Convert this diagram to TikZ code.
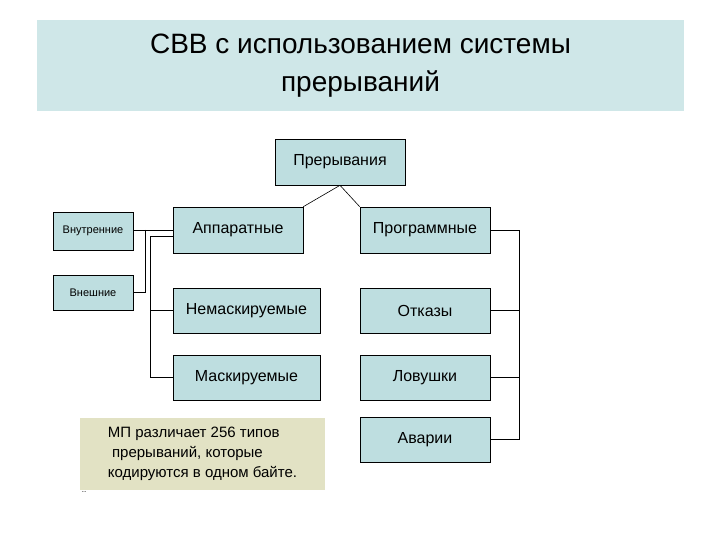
\documentclass[tikz,border=0pt]{standalone}
\usepackage{fontspec}
\setmainfont{Liberation Sans}
\definecolor{band}{HTML}{CFE7E8}
\definecolor{boxc}{HTML}{BEDEE0}
\definecolor{notec}{HTML}{E2E2C4}
\tikzset{bx/.style={draw=black,fill=boxc,line width=0.6pt,inner sep=0pt,font=\fontsize{16}{18}\selectfont},
 sm/.style={bx,font=\fontsize{11}{13}\selectfont},
 ln/.style={line width=0.6pt}}
\begin{document}
\begin{tikzpicture}[x=1pt,y=-1pt]
\useasboundingbox (0,0) rectangle (720,540);
\fill[white] (0,0) rectangle (720,540);
\node[fill=band,minimum width=647pt,minimum height=91pt,inner sep=0pt,align=center,font=\fontsize{28}{38}\selectfont] (title) at (360.5,65.5) {СВВ с использованием системы\\прерываний};
\node[bx,minimum width=130pt,minimum height=46pt] (pr) at (340,162) {Прерывания};
\node[sm,minimum width=80pt,minimum height=38pt] (vn) at (93,231) {Внутренние};
\node[sm,minimum width=80pt,minimum height=35pt] (ve) at (93,292.5) {Внешние};
\node[bx,minimum width=130pt,minimum height=46pt] (ap) at (238,230) {Аппаратные};
\node[bx,minimum width=130pt,minimum height=46pt] (pg) at (425,230) {Программные};
\node[bx,minimum width=147pt,minimum height=45pt] (nm) at (246.5,310.5) {Немаскируемые};
\node[bx,minimum width=130pt,minimum height=45pt] (ot) at (425,310.5) {Отказы};
\node[bx,minimum width=147pt,minimum height=45pt] (ms) at (246.5,377.5) {Маскируемые};
\node[bx,minimum width=130pt,minimum height=45pt] (lv) at (425,377.5) {Ловушки};
\node[bx,minimum width=130pt,minimum height=45pt] (av) at (425,439.5) {Аварии};
\node[fill=notec,minimum width=245pt,minimum height=72pt,inner sep=0pt,align=left,font=\fontsize{15}{20}\selectfont] (note) at (202.5,454) {МП различает 256 типов\\\ прерываний, которые\\кодируются в одном байте.};
\node[font=\fontsize{8}{8}\selectfont,inner sep=0pt] (dots) at (84,492) {..};
\draw[ln] (pr.south) -- (ap.north east);
\draw[ln] (pr.south) -- (pg.north west);
\coordinate (a1) at (145,230);
\coordinate (a2) at (150,236);
\draw[ln] (vn.east |- a1) -- (ap.west |- a1);
\draw[ln] (a1) |- (ve.east);
\draw[ln] (ap.west |- a2) -- (a2) |- (ms.west);
\draw[ln] (a2 |- nm.west) -- (nm.west);
\coordinate (r) at (519,230);
\draw[ln] (pg.east) -- (r) |- (av.east);
\draw[ln] (ot.east) -- (r |- ot.east);
\draw[ln] (lv.east) -- (r |- lv.east);
\end{tikzpicture}
\end{document}
